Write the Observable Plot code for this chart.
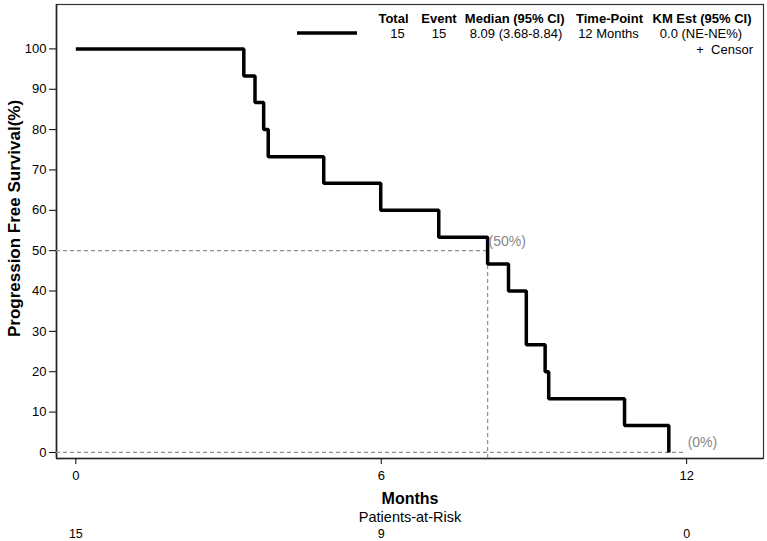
<!DOCTYPE html>
<html>
<head>
<meta charset="utf-8">
<script src="https://cdn.jsdelivr.net/npm/d3@7"></script>
<script src="https://cdn.jsdelivr.net/npm/@observablehq/plot@0.6"></script>
<style>
  html, body { margin: 0; padding: 0; background: #fff; }
  #chart svg { display: block; }
</style>
</head>
<body>
<div id="chart"></div>
<script>
// ---- Data ----
const times    = [0, 3.30, 3.52, 3.69, 3.78, 4.87, 5.99, 7.13, 8.09, 8.50, 8.85, 9.22, 9.29, 10.78, 11.65];
const survival = [100, 93.3, 86.7, 80.0, 73.3, 66.7, 60.0, 53.3, 46.7, 40.0, 26.7, 20.0, 13.3, 6.7, 0];
const xTicks = [0, 6, 12];
const yTicks = [0, 10, 20, 30, 40, 50, 60, 70, 80, 90, 100];
const atRiskTimes  = [0, 6, 12];
const atRiskCounts = [15, 9, 0];
const medianTime = 8.09;
const landmarkTime = 12;
const legendHeaders = ["Total", "Event", "Median (95% CI)", "Time-Point", "KM Est (95% CI)"];
const legendValues  = ["15", "15", "8.09 (3.68-8.84)", "12 Months", "0.0 (NE-NE%)"];
const censorLabel = "+  Censor";
const xLabel = "Months";
const yLabel = "Progression Free Survival(%)";
const riskLabel = "Patients-at-Risk";

// ---- Build tables ----
const km = times.map((t, i) => ({t, s: survival[i]}));
const atRisk = atRiskTimes.map((t, i) => ({t, n: atRiskCounts[i]}));

const xDomain = [-0.38, 13.51];
const yDomain = [-1.5, 111];
const FONT = "'Liberation Sans', Arial, Helvetica, sans-serif";
const dash = {stroke: "#8f8f8f", strokeWidth: 1.2, strokeDasharray: "4,3"};

const chart = Plot.plot({
  width: 767,
  height: 541,
  marginLeft: 56,
  marginRight: 4,
  marginTop: 4,
  marginBottom: 83,
  style: {fontFamily: FONT, fontSize: "13px", color: "#000", background: "#fff", overflow: "visible"},
  x: {domain: xDomain},
  y: {domain: yDomain},
  marks: [
    Plot.frame({stroke: "#333", strokeWidth: 1.2}),
    Plot.axisY({ticks: yTicks, tickSize: 7, tickPadding: 3, label: null, fontSize: 13}),
    Plot.axisX({ticks: xTicks, tickSize: 6, tickPadding: 6, label: null, fontSize: 13}),
    Plot.ruleX([xDomain[0]], {stroke: "#222", strokeWidth: 1.6}),
    Plot.ruleY([yDomain[0]], {stroke: "#222", strokeWidth: 1.6}),
    Plot.ruleY([50], {x1: xDomain[0], x2: medianTime, ...dash}),
    Plot.ruleX([medianTime], {y1: yDomain[0], y2: 50, ...dash}),
    Plot.ruleY([0], {x1: xDomain[0], x2: landmarkTime, ...dash}),
    Plot.line(km, {x: "t", y: "s", curve: "step-after", stroke: "#000", strokeWidth: 3.5, strokeLinejoin: "miter", strokeLinecap: "butt"}),
    Plot.text([{t: medianTime, s: 50}], {x: "t", y: "s", text: () => "(50%)", textAnchor: "start", dx: 1, dy: -9, fill: "#888", fontSize: 14}),
    Plot.text([{t: landmarkTime, s: 0}], {x: "t", y: "s", text: () => "(0%)", textAnchor: "start", dx: 1, dy: -10, fill: "#888", fontSize: 14}),
    Plot.text([yLabel], {frameAnchor: "left", dx: -42, dy: -13, rotate: -90, textAnchor: "middle", fontWeight: "bold", fontSize: 17, lineAnchor: "middle"}),
    Plot.text([xLabel], {frameAnchor: "bottom", dy: 40, textAnchor: "middle", lineAnchor: "middle", fontWeight: "bold", fontSize: 16}),
    Plot.text([riskLabel], {frameAnchor: "bottom", dy: 59, textAnchor: "middle", lineAnchor: "middle", fontSize: 14.5}),
    Plot.text(atRisk, {x: "t", text: "n", frameAnchor: "bottom", dy: 75.5, textAnchor: "middle", lineAnchor: "middle", fontSize: 12.5})
  ]
});

// ---- Legend (inside plot frame, top right) ----
const svg = d3.select(chart);
const lg = svg.append("g").attr("font-family", FONT).attr("fill", "#000");
const headerX = [393.5, 439, 514.7, 609.5, 702];
const valueX  = [397.5, 439, 516, 608.5, 701];
lg.append("line").attr("x1", 297).attr("x2", 357).attr("y1", 33).attr("y2", 33)
  .attr("stroke", "#000").attr("stroke-width", 3.5);
legendHeaders.forEach((h, i) => {
  lg.append("text").attr("x", headerX[i]).attr("y", 18).attr("dy", "0.35em")
    .attr("text-anchor", "middle").attr("font-weight", "bold").attr("font-size", 13).text(h);
});
legendValues.forEach((v, i) => {
  lg.append("text").attr("x", valueX[i]).attr("y", 33).attr("dy", "0.35em")
    .attr("text-anchor", "middle").attr("font-size", 13).text(v);
});
lg.append("text").attr("x", 753).attr("y", 49.5).attr("dy", "0.35em")
  .attr("text-anchor", "end").attr("font-size", 13).attr("xml:space", "preserve").style("white-space", "pre").text(censorLabel);

document.getElementById("chart").appendChild(chart);
</script>
</body>
</html>
